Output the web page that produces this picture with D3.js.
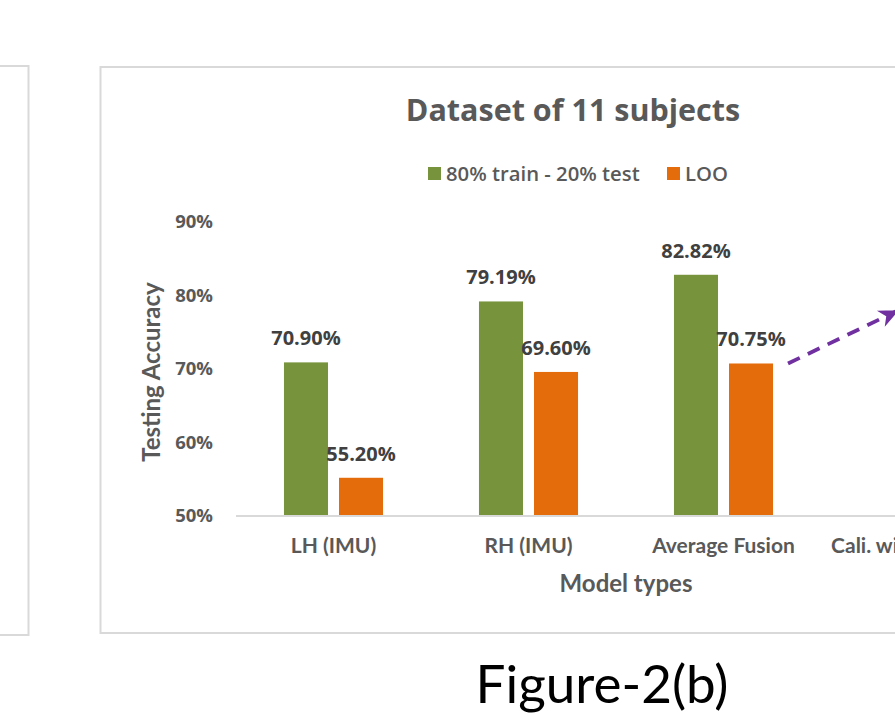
<!DOCTYPE html>
<html>
<head>
<meta charset="utf-8">
<script src="https://cdn.jsdelivr.net/npm/d3@7"></script>
<style>
  html, body { margin: 0; padding: 0; background: #ffffff; }
  svg { display: block; }
</style>
</head>
<body>
<svg id="chart" width="895" height="726"></svg>
<script>
// Model types on the x axis (the last one runs past the right edge of the page)
const categories = ["LH (IMU)", "RH (IMU)", "Average Fusion", "Cali. with 1 sample"];
// Testing accuracy for each evaluation protocol
const seriesNames = ["80% train - 20% test", "LOO"];
const trainTestValues = [0.7090, 0.7919, 0.8282, null];
const looValues = [0.5520, 0.6960, 0.7075, null];
const yTicks = [0.5, 0.6, 0.7, 0.8, 0.9];
const seriesColors = ["#77933C", "#E46C0A"];

const svg = d3.select("#chart");
const W = 895, H = 726;

svg.append("rect").attr("width", W).attr("height", H).attr("fill", "#ffffff");

// neighbouring chart frame on the left and this chart's frame
svg.append("rect")
  .attr("x", -20).attr("y", 66).attr("width", 48.5).attr("height", 569)
  .attr("fill", "#ffffff").attr("stroke", "#d9d9d9").attr("stroke-width", 2);
svg.append("rect")
  .attr("x", 100.5).attr("y", 67).attr("width", 1000).attr("height", 566)
  .attr("fill", "#ffffff").attr("stroke", "#d9d9d9").attr("stroke-width", 2);

// scales
const x0 = d3.scaleBand().domain(categories).range([236, 1016]).padding(0);
const bw = x0.bandwidth();
const x1 = d3.scaleBand().domain(seriesNames)
  .range([0.246 * bw, 0.754 * bw]).paddingInner(0.2).paddingOuter(0);
const y = d3.scaleLinear().domain([0.5, 0.9]).range([516, 222]);

// title
svg.append("text")
  .attr("x", 573).attr("y", 121)
  .attr("text-anchor", "middle")
  .attr("font-family", "'Open Sans', sans-serif")
  .attr("font-weight", 700).attr("font-size", 30.5)
  .attr("fill", "#595959")
  .text("Dataset of 11 subjects");

// legend
const legendItems = [
  { name: seriesNames[0], color: seriesColors[0], x: 428 },
  { name: seriesNames[1], color: seriesColors[1], x: 667 }
];
const lg = svg.append("g");
legendItems.forEach(d => {
  lg.append("rect").attr("x", d.x).attr("y", 167).attr("width", 13).attr("height", 13).attr("fill", d.color);
  lg.append("text")
    .attr("x", d.x + 18).attr("y", 181)
    .attr("font-family", "'Open Sans', sans-serif")
    .attr("font-weight", 600).attr("font-size", 20.3)
    .attr("fill", "#595959")
    .text(d.name);
});

// y axis labels
const yAxis = d3.axisLeft(y).tickValues(yTicks).tickFormat(d3.format(".0%")).tickSize(0).tickPadding(23);
const yg = svg.append("g").attr("transform", "translate(236,0)").call(yAxis);
yg.select(".domain").remove();
yg.selectAll("text")
  .attr("font-family", "'Open Sans', sans-serif")
  .attr("font-weight", 700).attr("font-size", 18.5)
  .attr("fill", "#595959");

// y axis title
svg.append("text")
  .attr("transform", "translate(160,372) rotate(-90)")
  .attr("text-anchor", "middle")
  .attr("font-family", "Lato, sans-serif")
  .attr("font-weight", 700).attr("font-size", 24)
  .attr("fill", "#595959")
  .text("Testing Accuracy");

// bars
const rows = categories.map((c, i) => ({ cat: c, vals: [trainTestValues[i], looValues[i]] }));
const groups = svg.append("g").selectAll("g").data(rows).join("g")
  .attr("transform", d => `translate(${x0(d.cat)},0)`);

const barData = d => d.vals.map((v, j) => ({ series: seriesNames[j], v, color: seriesColors[j] })).filter(b => b.v != null);

groups.selectAll("rect").data(barData).join("rect")
  .attr("x", b => x1(b.series))
  .attr("width", x1.bandwidth())
  .attr("y", b => y(b.v))
  .attr("height", b => y(0.5) - y(b.v))
  .attr("fill", b => b.color);

// value labels
groups.selectAll("text.val").data(barData).join("text")
  .attr("class", "val")
  .attr("x", b => x1(b.series) + x1.bandwidth() / 2)
  .attr("y", b => y(b.v) - 17)
  .attr("text-anchor", "middle")
  .attr("font-family", "'Open Sans', sans-serif")
  .attr("font-weight", 700).attr("font-size", 20)
  .attr("fill", "#404040")
  .text(b => d3.format(".2%")(b.v));

// baseline
svg.append("line")
  .attr("x1", x0.range()[0]).attr("x2", x0.range()[1])
  .attr("y1", y(0.5)).attr("y2", y(0.5))
  .attr("stroke", "#d9d9d9").attr("stroke-width", 2);

// category labels
const xAxis = d3.axisBottom(x0).tickSize(0).tickPadding(22);
const xg = svg.append("g").attr("transform", `translate(0,${y(0.5)})`).call(xAxis);
xg.select(".domain").remove();
xg.selectAll("text")
  .attr("font-family", "Lato, sans-serif")
  .attr("font-weight", 700).attr("font-size", 21)
  .attr("fill", "#595959");

// x axis title
svg.append("text")
  .attr("x", (x0.range()[0] + x0.range()[1]) / 2).attr("y", 592)
  .attr("text-anchor", "middle")
  .attr("font-family", "Lato, sans-serif")
  .attr("font-weight", 700).attr("font-size", 24)
  .attr("fill", "#595959")
  .text("Model types");

// dashed arrow from the fusion LOO bar towards the calibrated model
const arrowFrom = { cat: "Average Fusion", v: looValues[2] };
const arrowTo = { cat: "Cali. with 1 sample", v: 0.779 };
svg.append("defs").append("marker")
  .attr("id", "head").attr("markerUnits", "userSpaceOnUse")
  .attr("viewBox", "-20 -10 24 20").attr("refX", 0).attr("refY", 0)
  .attr("markerWidth", 24).attr("markerHeight", 20).attr("orient", "auto")
  .append("path").attr("d", "M2,0 L-18,-9 L-12,0 L-18,9 Z").attr("fill", "#7030A0");
svg.append("line")
  .attr("x1", x0(arrowFrom.cat) + x1(seriesNames[1]) + x1.bandwidth() + 15)
  .attr("y1", y(arrowFrom.v))
  .attr("x2", x0(arrowTo.cat) + 0.39 * bw)
  .attr("y2", y(arrowTo.v))
  .attr("stroke", "#7030A0").attr("stroke-width", 3.8)
  .attr("stroke-dasharray", "13 9")
  .attr("marker-end", "url(#head)");

// figure caption
svg.append("text")
  .attr("x", 602).attr("y", 703)
  .attr("text-anchor", "middle")
  .attr("font-family", "Lato, sans-serif")
  .attr("font-size", 53)
  .attr("fill", "#000000")
  .text("Figure-2(b)");
</script>
</body>
</html>
